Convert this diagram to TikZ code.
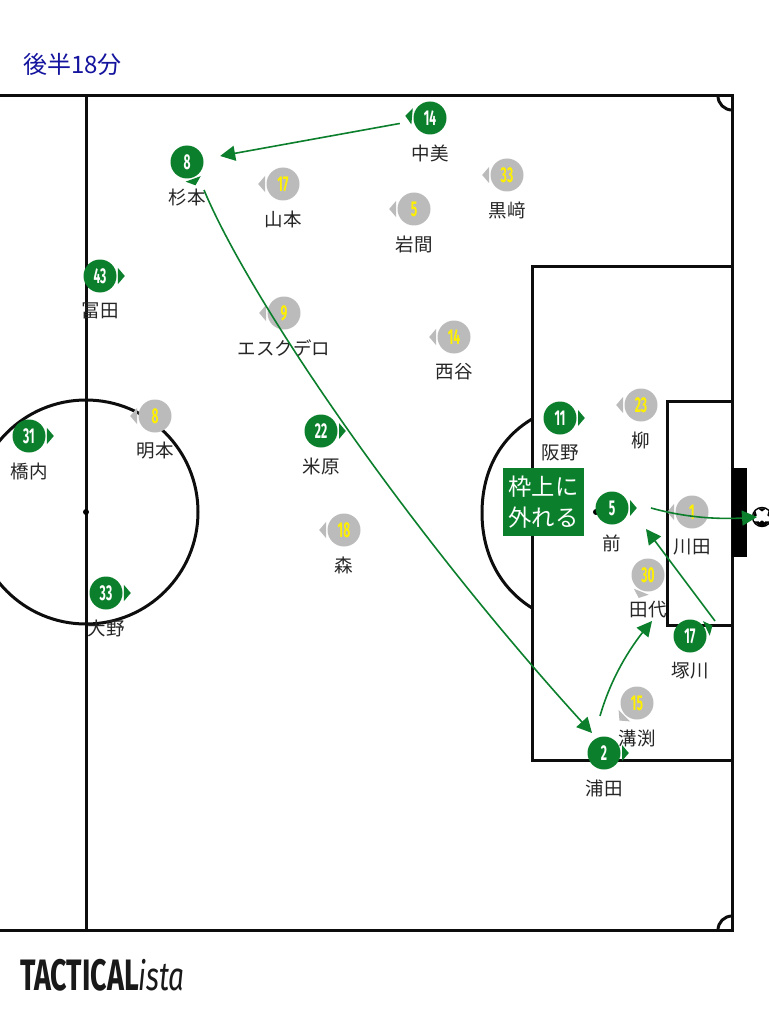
\documentclass[tikz,border=0pt]{standalone}
\usepackage{fontspec}
\usetikzlibrary{arrows.meta,bending}
\setmainfont{Noto Sans CJK JP}
\newfontfamily\numfont[FakeStretch=0.56]{Fira Sans}
\newfontfamily\logofont[FakeStretch=0.65]{Fira Sans}
\newfontfamily\logoital[FakeStretch=0.7]{Fira Sans}
\definecolor{tgreen}{HTML}{0B7F2C}
\definecolor{tgray}{HTML}{BBBBBB}
\definecolor{tyellow}{HTML}{FFF000}
\definecolor{tblue}{HTML}{14149E}
\tikzset{
  pitchline/.style={line width=3pt,black!95},
  pass/.style={tgreen,line width=1.6pt,-{Triangle[length=15pt,width=15pt]}},
  plabel/.style={font=\fontsize{18.5}{18.5}\selectfont,text=black!85,inner sep=0pt},
  greenp/.style={circle,fill=tgreen,minimum size=33pt,inner sep=0pt,text=white,font=\numfont\bfseries\fontsize{21.5}{21.5}\selectfont},
  grayp/.style={circle,fill=tgray,minimum size=33pt,inner sep=0pt,text=tyellow,font=\numfont\bfseries\fontsize{21.5}{21.5}\selectfont},
}
% style, fill, name, x, y, number, label, direction
\newcommand{\plyr}[8]{%
  \node[#1] (#3) at (#4,#5) {#6};
  \fill[#2] ([shift={(#3.center)}]#8+24:19.7) -- ([shift={(#3.center)}]#8:24.8) -- ([shift={(#3.center)}]#8-24:19.7) -- cycle;
  \node[plabel] (#3-l) at (#4,#5+35) {#7};
}
\begin{document}
\begin{tikzpicture}[x=1pt,y=-1pt]
\useasboundingbox (0,0) rectangle (768,1024);
\fill[white] (0,0) rectangle (768,1024);
% pitch
\draw[pitchline] (-5,96) -- (732,96) -- (732,930) -- (-5,930);
\draw[pitchline] (86,96) -- (86,930);
\draw[pitchline] (86,512) circle[radius=112];
\fill[black] (86,512) circle[radius=3];
\draw[pitchline] (732,266) -- (532,266) -- (532,760) -- (732,760);
\draw[pitchline] (732,401) -- (667,401) -- (667,625) -- (732,625);
\draw[pitchline] (532,419) .. controls (497,440) and (482,475) .. (482,513) .. controls (482,550) and (497,586) .. (532,608);
\fill[black] (596,512) circle[radius=3];
\draw[pitchline] (718,96) arc[start angle=180,end angle=90,radius=14];
\draw[pitchline] (718,930) arc[start angle=180,end angle=270,radius=14];
\fill[black] (732,468) rectangle (747,557);
% title
\node[anchor=west,inner sep=0pt,text=tblue,font=\fontsize{24}{24}\selectfont] (title) at (23,64) {後半18分};
% gray players
\plyr{grayp}{tgray}{g17}{283}{184}{17}{山本}{180}
\plyr{grayp}{tgray}{g33}{507}{175}{33}{黒﨑}{180}
\plyr{grayp}{tgray}{g5}{414}{209}{5}{岩間}{180}
\plyr{grayp}{tgray}{g9}{284}{313}{9}{エスクデロ}{180}
\plyr{grayp}{tgray}{g14}{454}{337}{14}{西谷}{180}
\plyr{grayp}{tgray}{g8}{155}{416}{8}{明本}{180}
\plyr{grayp}{tgray}{g23}{641}{405}{23}{柳}{180}
\plyr{grayp}{tgray}{g1}{692}{512}{1}{川田}{180}
\plyr{grayp}{tgray}{g18}{344}{530}{18}{森}{180}
\plyr{grayp}{tgray}{g30}{648}{575}{30}{田代}{112}
\plyr{grayp}{tgray}{g15}{637}{703}{15}{溝渕}{135}
% green players
\plyr{greenp}{tgreen}{p14}{430}{118}{14}{中美}{185}
\plyr{greenp}{tgreen}{p8}{187}{162}{8}{杉本}{70}
\plyr{greenp}{tgreen}{p43}{100}{276}{43}{冨田}{0}
\plyr{greenp}{tgreen}{p31}{29}{436}{31}{橋内}{0}
\plyr{greenp}{tgreen}{p33}{106}{593}{33}{大野}{0}
\plyr{greenp}{tgreen}{p22}{321}{431}{22}{米原}{0}
\plyr{greenp}{tgreen}{p11}{560}{418}{11}{阪野}{0}
\plyr{greenp}{tgreen}{p5}{612}{508}{5}{前}{0}
\plyr{greenp}{tgreen}{p17}{690}{636}{17}{塚川}{-25}
\plyr{greenp}{tgreen}{p2}{604}{753}{2}{浦田}{0}
% caption box
\node[fill=tgreen,text=white,minimum width=81pt,minimum height=68pt,inner sep=0pt,align=center,font=\fontsize{23.3}{31}\selectfont] (cap) at (543.5,502) {枠上に\\外れる};
% ball
\coordinate (ball) at (762,517);
\coordinate (balltip) at (757,517);
\fill[white] (ball) circle[radius=9.5];
\draw[black,line width=1.4pt] (ball) circle[radius=9.5];
\fill[black] (762,517) ++(90:3.4) -- ++(-3.2,2.3) -- ++(1.2,3.7) -- ++(4,0) -- ++(1.2,-3.7) -- cycle;
\foreach \a in {-90,-18,54,126,198}{
  \fill[black] ([shift={(ball)}]\a-26:9.5) -- ([shift={(ball)}]\a+26:9.5) -- ([shift={(ball)}]\a:5.5) -- cycle;
}
% passes
\coordinate (a1) at (204,190);
\coordinate (a2) at (592,733);
\coordinate (b1) at (600,716);
\coordinate (b2) at (652,621);
\coordinate (c1) at (715,621);
\coordinate (c2) at (646,529);
\coordinate (d1) at (651,508);
\draw[pass,shorten <=14pt,shorten >=17pt] (p14) -- (p8);
\draw[pass] (a1) .. controls (250,300) and (410,535) .. (a2);
\draw[pass] (b1) .. controls (611,678) and (630,646) .. (b2);
\draw[pass] (c1) -- (c2);
\draw[pass] (d1) .. controls (680,516) and (715,521) .. (balltip);
% logo
\node[anchor=base west,inner sep=0pt,text=black!90,font=\fontsize{44}{44}\selectfont] (logo) at (20,990) {{\logofont\bfseries TACTICAL}{\logoital\itshape\fontsize{40}{40}\selectfont ista}};
\end{tikzpicture}
\end{document}
